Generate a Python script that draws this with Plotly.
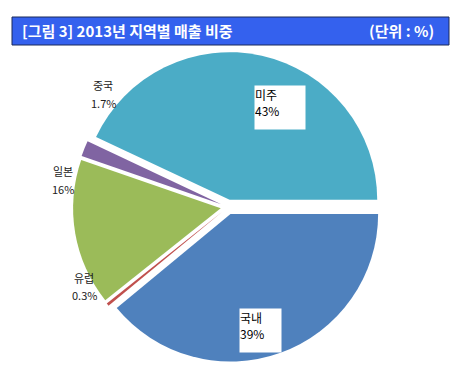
import plotly.graph_objects as go

# data
regions = ["국내", "유럽", "일본", "중국", "미주"]
shares = [39, 0.3, 16, 1.7, 43]
share_labels = ["39%", "0.3%", "16%", "1.7%", "43%"]
colors = ["#4F81BD", "#C0504D", "#9BBB59", "#8064A2", "#4BACC6"]

W, H = 468, 378

fig = go.Figure(go.Pie(
    labels=regions,
    values=shares,
    sort=False,
    direction="clockwise",
    rotation=90,
    pull=[0.05] * 5,
    marker=dict(colors=colors, line=dict(color="white", width=0)),
    textinfo="none",
    hoverinfo="label+percent",
    showlegend=False,
    domain=dict(x=[65 / W, 375 / W], y=[1 - 355 / H, 1 - 43 / H]),
))

def px(x):
    return x / W

def py(y):
    return 1 - y / H

font_small = dict(family="Noto Sans CJK KR", size=11, color="#222222")
font_box = dict(family="Noto Sans CJK KR", size=12, color="#000000")

ann = []
# outside labels (name line and value line as separate texts)
outside = {"중국": (95, 77, 95), "일본": (55, 163, 181), "유럽": (76, 270, 287)}
for name, (x, y1, y2) in outside.items():
    i = regions.index(name)
    ann.append(dict(x=px(x), y=py(y1), xref="paper", yref="paper",
                    text=name, showarrow=False, font=font_small,
                    xanchor="center", yanchor="middle"))
    ann.append(dict(x=px(x), y=py(y2), xref="paper", yref="paper",
                    text=share_labels[i], showarrow=False, font=font_small,
                    xanchor="center", yanchor="middle"))
# boxed labels
boxed = {"미주": (246, 77, 50, 43), "국내": (231, 300, 41, 43)}
for name, (x, y, w, h) in boxed.items():
    i = regions.index(name)
    ann.append(dict(x=px(x), y=py(y), xref="paper", yref="paper",
                    text=f"{name}<br>{share_labels[i]}", showarrow=False,
                    font=font_box, align="left", valign="top",
                    xanchor="left", yanchor="top", width=w, height=h,
                    bgcolor="white", borderpad=0))
# title bar texts
title_font = dict(family="Noto Sans CJK KR", size=15, color="white")
ann.append(dict(x=px(12), y=py(23), xref="paper", yref="paper",
                text="<b>[그림 3] 2013년 지역별 매출 비중</b>", showarrow=False,
                font=title_font, xanchor="left", yanchor="middle"))
ann.append(dict(x=px(428), y=py(23), xref="paper", yref="paper",
                text="<b>(단위 : %)</b>", showarrow=False,
                font=title_font, xanchor="right", yanchor="middle"))

fig.update_layout(
    width=W, height=H,
    margin=dict(l=0, r=0, t=0, b=0),
    paper_bgcolor="white",
    plot_bgcolor="white",
    annotations=ann,
    shapes=[dict(type="rect", xref="paper", yref="paper",
                 x0=px(4), x1=px(441), y0=py(37), y1=py(9),
                 fillcolor="#3461EE", line=dict(color="#1a2a5a", width=1),
                 layer="below")],
)

fig.write_html("out.html")
